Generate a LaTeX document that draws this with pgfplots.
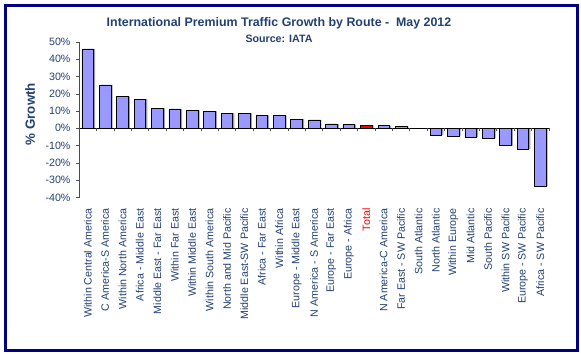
\documentclass[border=0pt]{standalone}
\usepackage{pgfplots}
\pgfplotsset{compat=1.18}
\usepackage{fontspec}
\setmainfont{Liberation Sans}
\definecolor{txt}{RGB}{36,64,115}
\definecolor{barfill}{RGB}{153,153,255}
\definecolor{framec}{RGB}{0,0,128}
\begin{document}
\begin{tikzpicture}
\path[use as bounding box] (0bp,0bp) rectangle (581bp,-355bp);
\draw[framec, line width=2.5bp] (5.5bp,-5.5bp) rectangle (577.5bp,-350.5bp);
\node[txt, font=\bfseries\fontsize{12.4bp}{14bp}\selectfont] at (279bp,-23bp) {International Premium Traffic Growth by Route -\ \ May 2012};
\node[txt, font=\bfseries\fontsize{10.67bp}{12bp}\selectfont] at (279bp,-39bp) {Source: IATA};
\begin{axis}[
  at={(79bp,-197.5bp)}, anchor=south west,
  scale only axis, width=470bp, height=155.8bp,
  xmin=-0.5, xmax=26.5, ymin=-40, ymax=50,
  axis y line*=left, axis x line*=bottom,
  x axis line style={draw=none},
  xtick={0,...,26},
  xtick style={draw=none},
  xticklabels={Within Central America,C America-S America,Within North America,Africa - Middle East,Middle East - Far East,Within Far East,Within Middle East,Within South America,North and Mid Pacific,Middle East-SW Pacific,Africa - Far East,Within Africa,Europe - Middle East,N America - S America,Europe - Far East,Europe - Africa,{\color{red}Total},N America-C America,Far East - SW Pacific,South Atlantic,North Atlantic,Within Europe,Mid Atlantic,South Pacific,Within SW Pacific,Europe - SW Pacific,Africa - SW Pacific},
  xticklabel style={rotate=90, anchor=east, text=txt, font=\fontsize{10.67bp}{12bp}\selectfont, xshift=-4.5bp},
  ytick={-40,-30,...,50},
  yticklabel={\pgfmathprintnumber[assume math mode=true]{\tick}\%},
  yticklabel style={text=txt, font=\fontsize{10.67bp}{12bp}\selectfont, xshift=-2bp},
  ytick style={gray!60!black},
  y axis line style={gray!60!black, line width=0.8bp},
  tick align=outside, major tick length=3bp,
  ylabel={\% Growth},
  ylabel style={at={(axis description cs:-0.104,0.536)}, anchor=center, text=txt, font=\bfseries\fontsize{13.33bp}{15bp}\selectfont},
  ybar, bar width=0.67, bar shift=0pt,
  clip=false,
]
\addplot[fill=gray!75, draw=none, xshift=1.6bp] coordinates {
(0,45.8) (1,25.0) (2,18.3) (3,16.9) (4,11.5) (5,11.2) (6,10.4) (7,9.8) (8,8.7) (9,8.6) (10,7.5) (11,7.3) (12,5.3) (13,4.8) (14,2.5) (15,2.1) (16,1.7) (17,1.5) (18,1.2) (19,-0.2) (20,-3.8) (21,-4.6) (22,-5.0) (23,-5.8) (24,-10.0) (25,-11.9) (26,-33.3)};
\addplot[fill=barfill, draw=black, line width=0.6bp] coordinates {
(0,45.8) (1,25.0) (2,18.3) (3,16.9) (4,11.5) (5,11.2) (6,10.4) (7,9.8) (8,8.7) (9,8.6) (10,7.5) (11,7.3) (12,5.3) (13,4.8) (14,2.5) (15,2.1) (17,1.5) (18,1.2) (19,-0.2) (20,-3.8) (21,-4.6) (22,-5.0) (23,-5.8) (24,-10.0) (25,-11.9) (26,-33.3)};
\addplot[fill=red, draw=black, line width=0.6bp] coordinates {(16,1.7)};
\draw[black, line width=0.8bp] (axis cs:-0.5,0) -- (axis cs:26.5,0);
\pgfplotsinvokeforeach{-0.5,0.5,...,26.5}{\draw[gray!60!black, line width=0.6bp] (axis cs:#1,0) -- ([yshift=-3bp]axis cs:#1,0);}
\end{axis}
\end{tikzpicture}
\end{document}
